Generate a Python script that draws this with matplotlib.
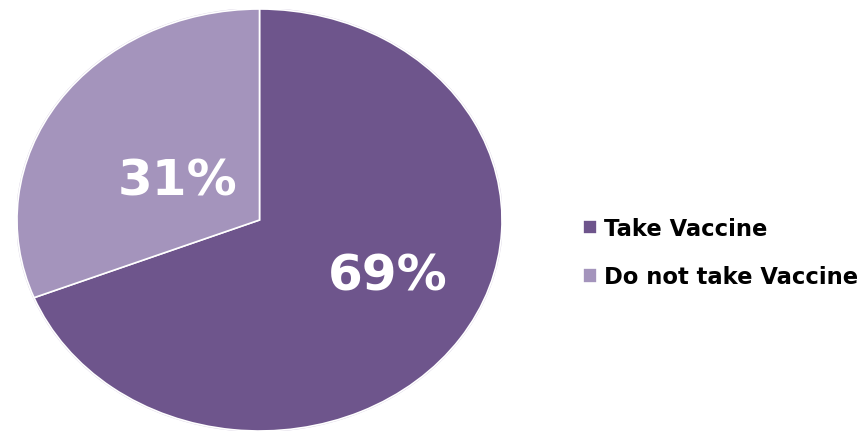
import matplotlib.pyplot as plt
from matplotlib.patches import Ellipse

# survey answers, percent of respondents
labels = ['Take Vaccine', 'Do not take Vaccine']
shares = [69, 31]
colors = ['#6e558c', '#a494bc']

# where the percentage text sits inside each wedge (data coords)
label_xy = [(0.528, -0.265), (-0.338, 0.185)]

fig = plt.figure(figsize=(8.63, 4.35), dpi=100)
W, H = 863, 435

# the pie is drawn slightly stretched, so the axes box sets its shape
ax = fig.add_axes([17 / W, 3 / H, 485 / W, 422 / H])
wedges, _ = ax.pie(shares, colors=colors, startangle=90, counterclock=False,
                   wedgeprops=dict(edgecolor='white', linewidth=1.2))
ax.set_aspect('auto')
ax.set_xlim(-1, 1)
ax.set_ylim(-1, 1)
ax.add_patch(Ellipse((0, 0), 2.0, 2.0, fill=False, edgecolor='#d6cfe0',
                     linewidth=1.5, zorder=0))

for v, (x, y) in zip(shares, label_xy):
    ax.text(x, y, f'{v}%', color='white', fontsize=36, fontweight='bold',
            ha='center', va='center')

leg = fig.legend(wedges, labels, loc='center left',
                 bbox_to_anchor=(563 / W, 1 - 253.5 / H), frameon=False,
                 prop=dict(size=16.3, weight='bold'), handlelength=0.62,
                 handleheight=0.62, handletextpad=0.3, labelspacing=1.12)

fig.savefig('out.png', dpi=100, facecolor='white')
